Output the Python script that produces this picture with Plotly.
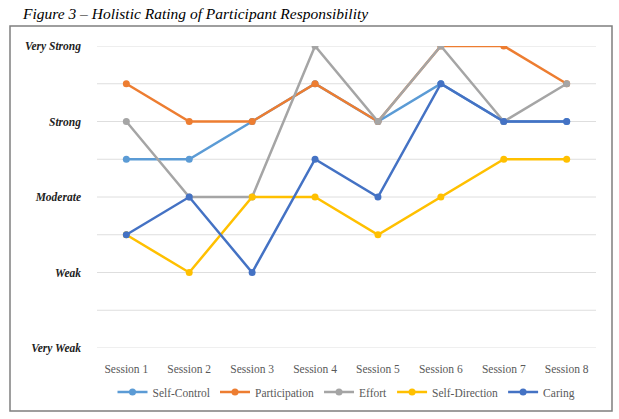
import plotly.graph_objects as go

sessions = ["Session 1", "Session 2", "Session 3", "Session 4",
            "Session 5", "Session 6", "Session 7", "Session 8"]
self_control = [3.5, 3.5, 4, 4.5, 4, 4.5, 4, 4]
participation = [4.5, 4, 4, 4.5, 4, 5, 5, 4.5]
effort = [4, 3, 3, 5, 4, 5, 4, 4.5]
self_direction = [2.5, 2, 3, 3, 2.5, 3, 3.5, 3.5]
caring = [2.5, 3, 2, 3.5, 3, 4.5, 4, 4]

tick_vals = [1, 2, 3, 4, 5]
tick_text = ["Very Weak", "Weak", "Moderate", "Strong", "Very Strong"]
grid_vals = [1, 1.5, 2, 2.5, 3, 3.5, 4, 4.5, 5]

series = [
    ("Self-Control", self_control, "#5B9BD5"),
    ("Participation", participation, "#ED7D31"),
    ("Effort", effort, "#A5A5A5"),
    ("Self-Direction", self_direction, "#FFC000"),
    ("Caring", caring, "#4472C4"),
]

serif = "Liberation Serif, Times New Roman, serif"

fig = go.Figure()
for name, vals, col in series:
    fig.add_trace(go.Scatter(
        x=sessions, y=vals, name=name, mode="lines+markers",
        line=dict(color=col, width=2.5),
        marker=dict(color=col, size=7),
    ))

L, R, T, B = 97, 23, 46, 71
W, H = 619, 419
pw, ph = W - L - R, H - T - B

def px_x(p):
    return (p - L) / pw

def px_y(p):
    return (H - B - p) / ph

fig.update_layout(
    width=W, height=H,
    margin=dict(l=L, r=R, t=T, b=B),
    paper_bgcolor="white", plot_bgcolor="white",
    showlegend=True,
    legend=dict(orientation="h", x=0.5, xanchor="center",
                y=px_y(392), yanchor="middle",
                font=dict(family=serif, size=11.5, color="#595959"),
                itemwidth=30, tracegroupgap=0),
    xaxis=dict(showgrid=False, showline=False, zeroline=False,
               tickfont=dict(family=serif, size=11.5, color="#595959"),
               ticks="", ticklabelstandoff=12),
    yaxis=dict(range=[1, 5], tickvals=tick_vals, ticktext=tick_text,
               showgrid=False, zeroline=False, showline=False,
               tickfont=dict(family=serif, size=11.5, color="#222222",
                             style="italic", weight="bold"),
               ticks="", ticklabelstandoff=15),
    font=dict(family=serif),
)

for g in grid_vals:
    fig.add_shape(type="line", xref="paper", yref="y", x0=0, x1=1, y0=g, y1=g,
                  line=dict(color="#DEDEDE", width=1), layer="below")

fig.add_shape(type="rect", xref="paper", yref="paper",
              x0=px_x(10), x1=px_x(612), y0=px_y(411), y1=px_y(26),
              line=dict(color="#7F7F7F", width=1.5), fillcolor="rgba(0,0,0,0)")

fig.add_annotation(text="Figure 3 – Holistic Rating of Participant Responsibility",
                   xref="paper", yref="paper", x=px_x(20), y=px_y(14),
                   xanchor="left", yanchor="middle", showarrow=False,
                   font=dict(family=serif, size=15.5, color="#000000", style="italic"))

fig.write_html("out.html", config={"displayModeBar": False},
               post_script="document.body.style.margin='0';")
